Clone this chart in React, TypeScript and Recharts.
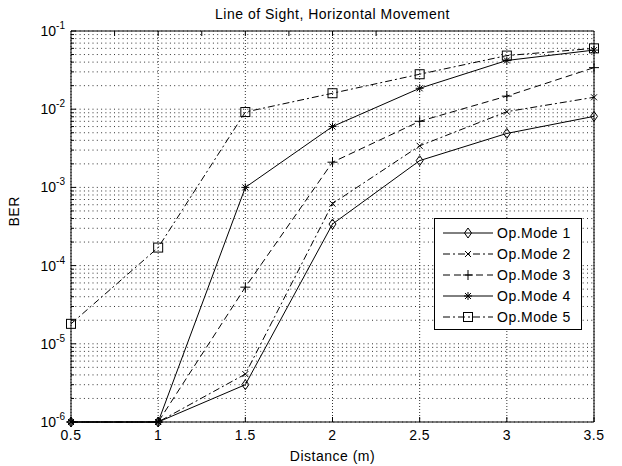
import { LineChart, Line, XAxis, YAxis, CartesianGrid, Legend } from 'recharts'

// BER vs distance
const distances = [0.5, 1, 1.5, 2, 2.5, 3, 3.5]
const opMode1 = [1e-6, 1e-6, 3.0e-6, 3.4e-4, 2.2e-3, 4.9e-3, 8.1e-3]
const opMode2 = [1e-6, 1e-6, 4.1e-6, 6.2e-4, 3.4e-3, 9.3e-3, 1.42e-2]
const opMode3 = [1e-6, 1e-6, 5.3e-5, 2.1e-3, 7.0e-3, 1.47e-2, 3.4e-2]
const opMode4 = [1e-6, 1e-6, 1.0e-3, 6.0e-3, 1.85e-2, 4.2e-2, 5.7e-2]
const opMode5 = [1.8e-5, 1.7e-4, 9.2e-3, 1.6e-2, 2.8e-2, 4.85e-2, 6.0e-2]

const xTicks = [0.5, 1, 1.5, 2, 2.5, 3, 3.5]
const xTickLabels = ['0.5', '1', '1.5', '2', '2.5', '3', '3.5']
const decadeExponents = [-6, -5, -4, -3, -2]
const topExponent = -1
const minorSteps = [1, 2, 3, 4, 5, 6, 7, 8, 9]

const yTicks: number[] = []
decadeExponents.forEach((e) => minorSteps.forEach((m) => yTicks.push(Number(`${m}e${e}`))))
yTicks.push(Number(`1e${topExponent}`))

const FONT = 'Arial, "Liberation Sans", sans-serif'

type Kind = 'diamond' | 'x' | 'plus' | 'star' | 'square'

const series: { key: string; name: string; values: number[]; dash?: string; marker: Kind }[] = [
  { key: 'm1', name: 'Op.Mode 1', values: opMode1, marker: 'diamond' },
  { key: 'm2', name: 'Op.Mode 2', values: opMode2, dash: '7 3 2 3', marker: 'x' },
  { key: 'm3', name: 'Op.Mode 3', values: opMode3, dash: '7 4', marker: 'plus' },
  { key: 'm4', name: 'Op.Mode 4', values: opMode4, marker: 'star' },
  { key: 'm5', name: 'Op.Mode 5', values: opMode5, dash: '7 3 2 3', marker: 'square' },
]

const rows = distances.map((d, i) => {
  const r: Record<string, number> = { d }
  series.forEach((s) => (r[s.key] = s.values[i]))
  return r
})

function Marker({ kind, cx, cy }: { kind: Kind; cx: number; cy: number }) {
  if (cx == null || cy == null) return null
  const st = { stroke: '#000', strokeWidth: 1, fill: 'none' }
  switch (kind) {
    case 'diamond':
      return <path d={`M${cx},${cy - 5}L${cx + 3.5},${cy}L${cx},${cy + 5}L${cx - 3.5},${cy}Z`} {...st} />
    case 'square':
      return <rect x={cx - 4.5} y={cy - 4.5} width={9} height={9} {...st} />
    case 'x':
      return <path d={`M${cx - 3},${cy - 3}L${cx + 3},${cy + 3}M${cx - 3},${cy + 3}L${cx + 3},${cy - 3}`} {...st} />
    case 'plus':
      return <path d={`M${cx - 5},${cy}L${cx + 5},${cy}M${cx},${cy - 5}L${cx},${cy + 5}`} {...st} />
    case 'star':
      return (
        <path
          d={`M${cx - 4},${cy}L${cx + 4},${cy}M${cx},${cy - 4}L${cx},${cy + 4}M${cx - 3},${cy - 3}L${cx + 3},${cy + 3}M${cx - 3},${cy + 3}L${cx + 3},${cy - 3}`}
          {...st}
        />
      )
  }
  return null
}

const isMajor = (v: number) => Math.abs(Math.log10(v) - Math.round(Math.log10(v))) < 1e-9

function LeftTick(props: any) {
  const { x, y, payload } = props
  const v = payload.value
  const major = isMajor(v)
  return (
    <g>
      <line x1={x} y1={y} x2={x + (major ? 5 : 3)} y2={y} stroke="#000" />
      {major && (
        <text x={x - 6} y={y + 5} textAnchor="end" fontFamily={FONT} fontSize={14} fill="#000">
          <tspan>10</tspan>
          <tspan dy={-7} fontSize={10}>{Math.round(Math.log10(v))}</tspan>
        </text>
      )}
    </g>
  )
}

function RightTick(props: any) {
  const { x, y, payload } = props
  const major = isMajor(payload.value)
  return <line x1={x} y1={y} x2={x - (major ? 5 : 3)} y2={y} stroke="#000" />
}

function BottomTick(props: any) {
  const { x, y, payload } = props
  const idx = xTicks.indexOf(payload.value)
  return (
    <g>
      <line x1={x} y1={y} x2={x} y2={y - 5} stroke="#000" />
      <text x={x} y={y + 18} textAnchor="middle" fontFamily={FONT} fontSize={14} letterSpacing={0.5} fill="#000">
        {xTickLabels[idx]}
      </text>
    </g>
  )
}

function TopTick(props: any) {
  const { x, y } = props
  return <line x1={x} y1={y} x2={x} y2={y + 5} stroke="#000" />
}

function LegendBox() {
  return (
    <svg width={148} height={112} style={{ display: 'block' }}>
      <rect x={0.5} y={0.5} width={147} height={111} fill="#fff" stroke="#000" />
      {series.map((s, i) => {
        const cy = 15 + i * 21
        return (
          <g key={s.key}>
            <line x1={9} y1={cy} x2={59} y2={cy} stroke="#000" strokeDasharray={s.dash} />
            <Marker kind={s.marker} cx={34} cy={cy} />
            <text x={63} y={cy + 5} fontFamily={FONT} fontSize={14} letterSpacing={0.5} fill="#000">
              {s.name}
            </text>
          </g>
        )
      })}
    </svg>
  )
}

export default function App() {
  return (
    <div style={{ position: 'absolute', left: 0, top: 0, width: 622, height: 466, background: '#fff' }}>
      <div
        style={{
          position: 'absolute',
          top: 6,
          left: 71,
          width: 523,
          textAlign: 'center',
          fontFamily: FONT,
          fontSize: 14,
          letterSpacing: 0.5,
          color: '#000',
        }}
      >
        Line of Sight, Horizontal Movement
      </div>
      <LineChart width={622} height={466} data={rows} margin={{ top: 30, right: 27, bottom: 0, left: 0 }}>
        <CartesianGrid xAxisId="b" yAxisId="l" vertical={false} stroke="#333" strokeDasharray="1 3.3" />
        <CartesianGrid xAxisId="b" yAxisId="l" horizontal={false} stroke="#333" strokeDasharray="1 2" />
        <XAxis
          xAxisId="b"
          dataKey="d"
          type="number"
          domain={[0.5, 3.5]}
          ticks={xTicks}
          interval={0}
          height={44}
          tickSize={0}
          tickMargin={0}
          axisLine={{ stroke: '#000' }}
          tickLine={false}
          tick={<BottomTick />}
          label={{ value: 'Distance (m)', position: 'insideBottom', offset: 5, fill: '#000', fontSize: 14, fontFamily: FONT, letterSpacing: 0.5 }}
        />
        <XAxis
          xAxisId="t"
          orientation="top"
          type="number"
          domain={[0.5, 3.5]}
          ticks={xTicks}
          interval={0}
          height={1}
          tickSize={0}
          tickMargin={0}
          axisLine={{ stroke: '#000' }}
          tickLine={false}
          tick={<TopTick />}
        />
        <YAxis
          yAxisId="l"
          scale="log"
          type="number"
          domain={[1e-6, 1e-1]}
          ticks={yTicks}
          interval={0}
          width={71}
          tickSize={0}
          tickMargin={0}
          axisLine={{ stroke: '#000' }}
          tickLine={false}
          tick={<LeftTick />}
          label={{ value: 'BER', angle: -90, position: 'insideLeft', offset: 14, fill: '#000', fontSize: 14, fontFamily: FONT, letterSpacing: 0.5 }}
        />
        <YAxis
          yAxisId="r"
          orientation="right"
          scale="log"
          type="number"
          domain={[1e-6, 1e-1]}
          ticks={yTicks}
          interval={0}
          width={1}
          tickSize={0}
          tickMargin={0}
          axisLine={{ stroke: '#000' }}
          tickLine={false}
          tick={<RightTick />}
        />
        {series.map((s) => (
          <Line
            key={s.key}
            xAxisId="b"
            yAxisId="l"
            type="linear"
            dataKey={s.key}
            name={s.name}
            stroke="#000"
            strokeWidth={1}
            strokeDasharray={s.dash}
            dot={(p: any) => <Marker key={`${s.key}-${p.index}`} kind={s.marker} cx={p.cx} cy={p.cy} />}
            activeDot={false}
            isAnimationActive={false}
          />
        ))}
        <Legend
          layout="horizontal"
          verticalAlign="middle"
          content={() => <LegendBox />}
          wrapperStyle={{ position: 'absolute', left: 434, top: 218, width: 148, height: 112 }}
        />
      </LineChart>
    </div>
  )
}
